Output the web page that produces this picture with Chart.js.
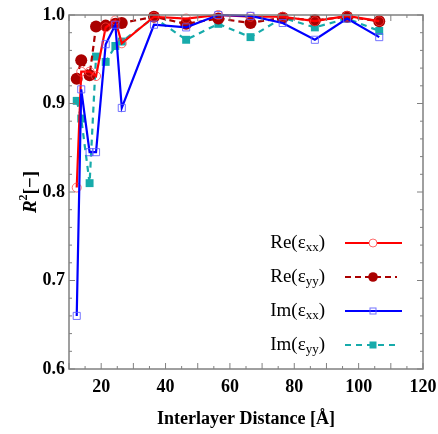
<!DOCTYPE html>
<html>
<head>
<meta charset="utf-8">
<script src="https://cdn.jsdelivr.net/npm/chart.js@4.4.1/dist/chart.umd.min.js"></script>
<style>
  html, body { margin: 0; padding: 0; background: #fff; }
  #wrap { width: 438px; height: 434px; }
</style>
</head>
<body>
<div id="wrap"><canvas id="chart"></canvas></div>
<script>
// interlayer distance [Å]
const distances = [12.4, 13.8, 16.4, 18.4, 21.4, 24.4, 26.4, 36.4, 46.4, 56.4, 66.4, 76.4, 86.4, 96.4, 106.4];
const reXX = [0.805, 0.936, 0.936, 0.931, 0.986, 0.994, 0.968, 0.998, 0.996, 1.000, 0.998, 0.998, 0.993, 0.999, 0.993];
const reYY = [0.928, 0.949, 0.932, 0.987, 0.988, 0.990, 0.991, 0.998, 0.990, 0.996, 0.991, 0.997, 0.994, 0.998, 0.993];
const imXX = [0.660, 0.916, 0.845, 0.845, 0.967, 0.989, 0.895, 0.989, 0.986, 1.000, 0.999, 0.991, 0.972, 0.996, 0.975];
const imYY = [0.903, 0.883, 0.810, 0.953, 0.947, 0.965, 0.970, 0.997, 0.972, 0.990, 0.975, 0.997, 0.986, 0.996, 0.982];

const seriesNames = [['Re', 'xx'], ['Re', 'yy'], ['Im', 'xx'], ['Im', 'yy']];
const xTicks = [20, 40, 60, 80, 100, 120];
const yTicks = [0.6, 0.7, 0.8, 0.9, 1.0];

const pts = ys => distances.map((x, i) => ({ x: x, y: ys[i] }));

const styles = [
  { color: '#ff0000', dash: [], point: 'circle', radius: 4.5, bg: 'rgba(255,255,255,0)', pb: 'rgba(255,60,60,0.75)', pw: 1 },
  { color: '#aa0000', dash: [6, 4], point: 'circle', radius: 6, bg: '#aa0000', pb: '#aa0000', pw: 0 },
  { color: '#0000ff', dash: [], point: 'rect', radius: 5, bg: 'rgba(255,255,255,0)', pb: 'rgba(90,90,255,0.85)', pw: 1 },
  { color: '#17abab', dash: [6, 5], point: 'rect', radius: 5.6, bg: '#17abab', pb: '#17abab', pw: 0 }
];
const allSeries = [reXX, reYY, imXX, imYY];

const datasets = allSeries.map((ys, i) => ({
  label: seriesNames[i].join(''),
  data: pts(ys),
  showLine: true,
  borderColor: styles[i].color,
  borderWidth: 2.2,
  borderDash: styles[i].dash,
  pointStyle: styles[i].point,
  pointRadius: styles[i].radius,
  pointBackgroundColor: styles[i].bg,
  pointBorderColor: styles[i].pb,
  pointBorderWidth: styles[i].pw,
  clip: 10,
  order: [2, 3, 1, 4][i]
}));

const serif = '"Liberation Serif", "DejaVu Serif", serif';

const frame = {
  id: 'frame',
  afterDraw(chart) {
    const c = chart.ctx, a = chart.chartArea;
    const xs = chart.scales.x, ys = chart.scales.y;
    c.save();
    c.strokeStyle = '#808080';
    c.lineWidth = 1.5;
    c.strokeRect(a.left, a.top, a.right - a.left, a.bottom - a.top);
    c.lineWidth = 1;
    c.beginPath();
    for (let v = 10; v <= 120; v += 5) {
      const p = xs.getPixelForValue(v);
      const len = v % 10 === 0 ? 6 : 3;
      c.moveTo(p, a.bottom); c.lineTo(p, a.bottom - len);
      c.moveTo(p, a.top); c.lineTo(p, a.top + len);
    }
    for (let k = 0; k <= 20; k++) {
      const v = 0.6 + k * 0.02;
      const p = ys.getPixelForValue(v);
      const len = k % 5 === 0 ? 6 : 3;
      c.moveTo(a.left, p); c.lineTo(a.left + len, p);
      c.moveTo(a.right, p); c.lineTo(a.right - len, p);
    }
    c.stroke();

    // y axis title  R^2[-]
    c.fillStyle = '#000';
    c.translate(31, 192);
    c.rotate(-Math.PI / 2);
    c.textBaseline = 'middle';
    c.font = 'italic bold 19px ' + serif;
    const wR = c.measureText('R').width;
    c.font = 'bold 12px ' + serif;
    const w2 = c.measureText('2').width;
    c.font = 'bold 19px ' + serif;
    const wB = c.measureText('[\u2212]').width;
    let x0 = -(wR + w2 + wB) / 2;
    c.font = 'italic bold 19px ' + serif;
    c.textAlign = 'left';
    c.fillText('R', x0, 0);
    c.font = 'bold 12px ' + serif;
    c.fillText('2', x0 + wR, -7);
    c.font = 'bold 19px ' + serif;
    c.fillText('[\u2212]', x0 + wR + w2, 0);
    c.restore();

    // legend inside plot
    c.save();
    const rows = [243, 277, 311, 345];
    rows.forEach((y, i) => {
      const [pre, sub] = seriesNames[i];
      const s = styles[i];
      c.fillStyle = '#000';
      c.textBaseline = 'middle';
      c.font = '19px ' + serif;
      const t1 = pre + '(\u03b5';
      const w1 = c.measureText(t1).width;
      c.font = '13px ' + serif;
      const ws = c.measureText(sub).width;
      c.font = '19px ' + serif;
      const w3 = c.measureText(')').width;
      let x = 325 - (w1 + ws + w3);
      c.textAlign = 'left';
      c.fillText(t1, x, y);
      c.font = '13px ' + serif;
      c.fillText(sub, x + w1, y + 5);
      c.font = '19px ' + serif;
      c.fillText(')', x + w1 + ws, y);

      c.strokeStyle = s.color;
      c.lineWidth = 2.2;
      c.setLineDash(s.dash);
      c.beginPath();
      c.moveTo(345, y);
      c.lineTo(s.dash.length ? 397 : 402, y);
      c.stroke();
      c.setLineDash([]);
      const mx = 373;
      c.lineWidth = 1;
      if (s.point === 'circle') {
        c.beginPath();
        c.arc(mx, y, s.pw ? 4 : 4.8, 0, Math.PI * 2);
        if (s.pw) { c.fillStyle = '#fff'; c.fill(); c.strokeStyle = s.pb; c.stroke(); }
        else { c.fillStyle = s.bg; c.fill(); }
      } else {
        const h = s.pw ? 3 : 3.5;
        if (s.pw) { c.strokeStyle = s.pb; c.strokeRect(mx - h, y - h, 2 * h, 2 * h); }
        else { c.fillStyle = s.bg; c.fillRect(mx - h, y - h, 2 * h, 2 * h); }
      }
    });
    c.restore();
  }
};

new Chart(document.getElementById('chart'), {
  type: 'scatter',
  data: { datasets: datasets },
  options: {
    responsive: true,
    maintainAspectRatio: false,
    animation: false,
    layout: { padding: { top: 15, right: 15, left: 0, bottom: 0 } },
    plugins: { legend: { display: false }, tooltip: { enabled: false } },
    scales: {
      x: {
        type: 'linear',
        min: 10,
        max: 120,
        afterBuildTicks: s => { s.ticks = xTicks.map(v => ({ value: v })); },
        afterFit: s => { s.height = 65; s.paddingLeft = 0; s.paddingRight = 0; },
        grid: { display: false, drawTicks: false },
        border: { display: false },
        ticks: { color: '#000', padding: 8, font: { family: serif, size: 18, weight: 'bold' }, maxRotation: 0 },
        title: { display: true, text: 'Interlayer Distance [\u00c5]', color: '#000', padding: { top: 8 }, font: { family: serif, size: 18, weight: 'bold' } }
      },
      y: {
        min: 0.6,
        max: 1.0,
        afterBuildTicks: s => { s.ticks = yTicks.map(v => ({ value: v })); },
        afterFit: s => { s.width = 69; s.paddingTop = 0; s.paddingBottom = 0; },
        grid: { display: false, drawTicks: false },
        border: { display: false },
        ticks: { color: '#000', padding: 4, font: { family: serif, size: 18, weight: 'bold' }, callback: v => v.toFixed(1) }
      }
    }
  },
  plugins: [frame]
});
</script>
</body>
</html>
